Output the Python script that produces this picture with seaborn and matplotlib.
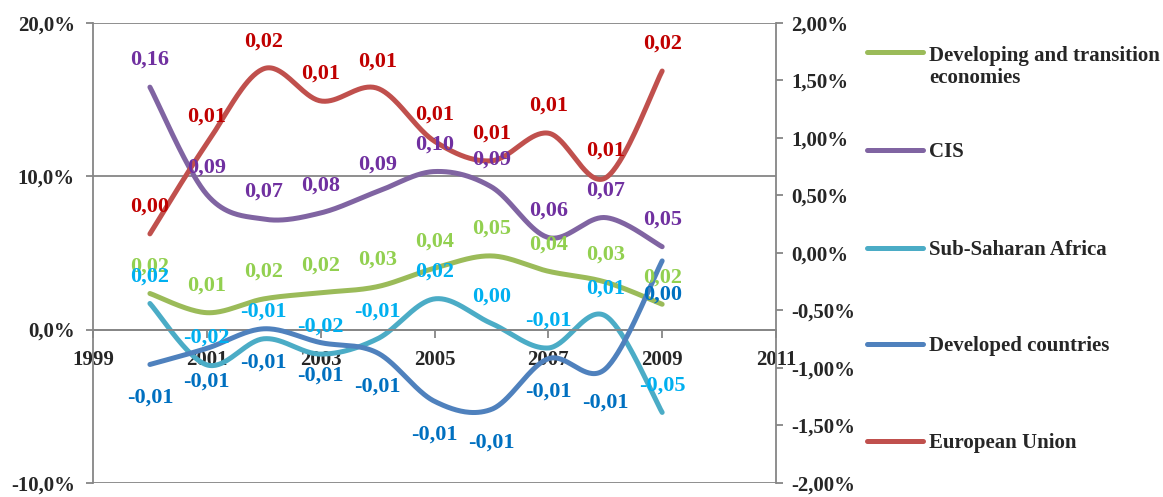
import numpy as np
import matplotlib
matplotlib.use("Agg")
import matplotlib.pyplot as plt
from matplotlib.ticker import FuncFormatter
from matplotlib.lines import Line2D
import seaborn as sns

# Annual values (fractions); EU and developed countries use the right-hand axis
years = [2000, 2001, 2002, 2003, 2004, 2005, 2006, 2007, 2008, 2009]
developing = [0.0235, 0.011, 0.020, 0.024, 0.028, 0.040, 0.048, 0.038, 0.031, 0.0165]
cis = [0.158, 0.088, 0.072, 0.076, 0.090, 0.103, 0.093, 0.060, 0.073, 0.054]
ssa = [0.017, -0.023, -0.006, -0.016, -0.006, 0.020, 0.004, -0.012, 0.009, -0.054]
developed = [-0.0097, -0.0083, -0.0066, -0.0078, -0.0087, -0.0129, -0.0136, -0.0092, -0.0101, -0.0007]
eu = [0.00165, 0.0095, 0.0160, 0.0132, 0.0143, 0.0097, 0.0080, 0.0104, 0.0065, 0.0158]

names = ["Developing and transition\neconomies", "CIS", "Sub-Saharan Africa",
         "Developed countries", "European Union"]
line_colors = ["#9BBB59", "#8064A2", "#4BACC6", "#4F81BD", "#C0504D"]
text_colors = ["#92D050", "#7030A0", "#00B0F0", "#0070C0", "#C00000"]
on_right = [False, False, False, True, True]
label_below = [False, False, False, True, False]
values = [developing, cis, ssa, developed, eu]

x_ticks = [1999, 2001, 2003, 2005, 2007, 2009, 2011]

sns.set_style("white")
plt.rcParams["font.family"] = ["Liberation Serif", "DejaVu Serif"]
plt.rcParams["font.weight"] = "bold"

W, H = 1163, 497
fig = plt.figure(figsize=(W / 100, H / 100), dpi=100)
ax = fig.add_axes([93 / W, 1 - 483 / H, (776 - 93) / W, (483 - 22.7) / H])
ax2 = ax.twinx()


def smooth(x, y, n=40):
    """Bezier smoothing through every point (Catmull-Rom style control points)."""
    x = np.asarray(x, float)
    y = np.asarray(y, float)
    px = np.concatenate([[x[0]], x, [x[-1]]])
    py = np.concatenate([[y[0]], y, [y[-1]]])
    t = np.linspace(0, 1, n)[:, None]
    xs, ys = [], []
    for i in range(1, len(px) - 2):
        p0 = np.array([px[i - 1], py[i - 1]])
        p1 = np.array([px[i], py[i]])
        p2 = np.array([px[i + 1], py[i + 1]])
        p3 = np.array([px[i + 2], py[i + 2]])
        c1 = p1 + (p2 - p0) / 6
        c2 = p2 - (p3 - p1) / 6
        pts = ((1 - t) ** 3) * p1 + 3 * ((1 - t) ** 2) * t * c1 + 3 * (1 - t) * t ** 2 * c2 + t ** 3 * p2
        if i > 1:
            pts = pts[1:]
        xs.append(pts[:, 0])
        ys.append(pts[:, 1])
    return np.concatenate(xs), np.concatenate(ys)


for vals, lc, right in zip(values, line_colors, on_right):
    target = ax2 if right else ax
    sx, sy = smooth(years, vals)
    sns.lineplot(x=sx, y=sy, ax=target, color=lc, linewidth=3.6, sort=False,
                 estimator=None, legend=False, solid_capstyle="round")


def fmt_val(v):
    return f"{round(v, 2) + 0.0:.2f}".replace(".", ",")


# data labels, drawn on the top axes so they sit above every line
for vals, tc, right, below in zip(values, text_colors, on_right, label_below):
    trans = ax2.transData if right else ax.transData
    dy = -24 if below else 19.5
    for x, v in zip(years, vals):
        ax2.annotate(fmt_val(v), xy=(x, v), xycoords=trans, xytext=(0, dy),
                     textcoords="offset points", ha="center", va="center",
                     color=tc, fontsize=16, fontweight="bold", annotation_clip=False,
                     zorder=10)

grey = "#868686"
ax.set_xlim(1999, 2011)
ax.set_ylim(-0.10, 0.20)
ax2.set_ylim(-0.02, 0.02)
ax.set_xticks(x_ticks)
ax.set_xticklabels([str(y) for y in x_ticks])
ax.set_yticks([-0.10, 0.0, 0.10, 0.20])
ax2.set_yticks(np.linspace(-0.02, 0.02, 9))
ax.yaxis.set_major_formatter(FuncFormatter(lambda v, p: f"{v * 100:.1f}%".replace(".", ",")))
ax2.yaxis.set_major_formatter(FuncFormatter(lambda v, p: f"{v * 100:.2f}%".replace(".", ",")))

ax.grid(axis="y", color=grey, linewidth=1.3)
ax.grid(axis="x", visible=False)
ax2.grid(False)
ax.set_axisbelow(True)

for s in ["top", "right"]:
    ax.spines[s].set_visible(False)
for s in ["top", "left", "bottom"]:
    ax2.spines[s].set_visible(False)
ax.spines["bottom"].set_position(("data", 0))
for sp in [ax.spines["left"], ax.spines["bottom"], ax2.spines["right"]]:
    sp.set_color(grey)
    sp.set_linewidth(1.3)

ax.tick_params(axis="y", direction="out", length=5, width=1.3, color=grey,
               labelsize=15, pad=8, left=True)
ax.tick_params(axis="x", direction="out", length=6, width=1.3, color=grey,
               labelsize=15, pad=9, bottom=True)
ax2.tick_params(axis="y", direction="out", length=5, width=1.3, color=grey,
                labelsize=15, pad=6, right=True)
for lab in ax.get_xticklabels() + ax.get_yticklabels() + ax2.get_yticklabels():
    lab.set_fontweight("bold")
ax.set_xlabel("")
ax.set_ylabel("")
ax2.set_ylabel("")

# legend on the right
leg_y = [52, 150, 248, 344, 441]
for name, lc, y in zip(names, line_colors, leg_y):
    fy = 1 - y / H
    fig.add_artist(Line2D([867 / W, 923 / W], [fy, fy], color=lc, linewidth=3.6,
                          solid_capstyle="round", transform=fig.transFigure))
    ty = 1 - (y + 15) / H if "\n" in name else 1 - (y + 2) / H
    fig.text(929 / W, ty, name, ha="left", va="center", fontsize=15,
             fontweight="bold", linespacing=1.15)

fig.savefig("out.png", dpi=100)
